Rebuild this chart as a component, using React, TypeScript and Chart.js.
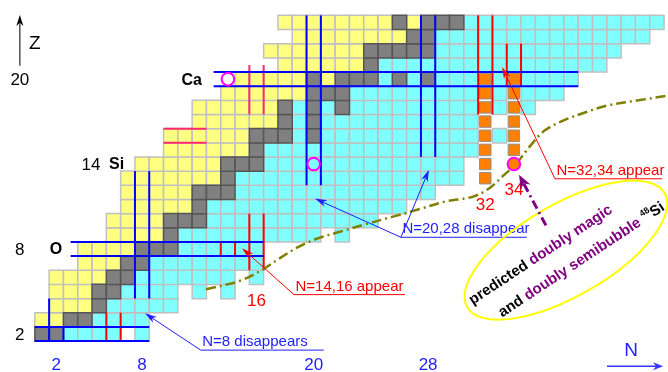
import { useEffect, useRef } from 'react';
import { Chart, registerables } from 'chart.js';

Chart.register(...registerables);

// Light-nuclei section of the chart of nuclides, Z = 2 .. 24.
// Each row is a run-length list starting at firstNeutron:
//   y = proton-rich, g = stable, c = neutron-rich, o = N=32/34 candidates, . = not bound / not seen
const protonNumbers = [2, 3, 4, 5, 6, 7, 8, 9, 10, 11, 12, 13, 14, 15, 16, 17, 18, 19, 20, 21, 22, 23, 24];
const firstNeutron = [1, 1, 2, 2, 2, 4, 4, 6, 6, 7, 7, 7, 8, 10, 10, 12, 12, 14, 15, 18, 17, 19, 18];
const rowRuns = [
  'g2 c4 . c', // He
  'y2 g2 c4', // Li
  'y3 g c5', // Be
  'y3 g2 c4 . c . c', // B
  'y4 g2 c7 . c', // C
  'y3 g2 c8', // N
  'y4 g3 c6', // O
  'y4 g c10 . c', // F
  'y4 g3 c12', // Ne
  'y5 g c14', // Na
  'y5 g3 c14', // Mg
  'y7 g c16 . o', // Al
  'y6 g3 c14 . o', // Si
  'y6 g c15 o . o', // P
  'y6 g3 c g c11 o c o', // S
  'y6 g c g c11 o . o', // Cl
  'y6 g c g c g c9 o c o c', // Ar
  'y6 g3 c9 o c o c3', // K
  'y5 g y g3 c g c g c3 o c o c4', // Ca
  'y6 g c16', // Sc
  'y7 g5 c13', // Ti
  'y8 g2 c15', // V
  'y8 g y g3 c14', // Cr
];

// Shell-closure frames along cell edges: [N from, Z from, N to, Z to]
const fadingMagicLines = [
  [1.5, 1.5, 1.5, 4.5], [2.5, 1.5, 2.5, 2.5],
  [0.5, 1.5, 8.5, 1.5], [0.5, 2.5, 8.5, 2.5],
  [7.5, 4.5, 7.5, 13.5], [8.5, 4.5, 8.5, 13.5],
  [3, 7.5, 16.5, 7.5], [3, 8.5, 16.5, 8.5],
  [19.5, 12.5, 19.5, 24.5], [20.5, 12.5, 20.5, 24.5],
  [27.5, 14.5, 27.5, 24.5], [28.5, 14.5, 28.5, 24.5],
  [13, 19.5, 38.5, 19.5], [13, 20.5, 38.5, 20.5],
];
const newMagicLines = [
  [5.5, 1.5, 5.5, 3.5], [6.5, 1.5, 6.5, 3.5],
  [13.5, 7.5, 13.5, 8.5], [14.5, 7.5, 14.5, 8.5],
  [15.5, 6.5, 15.5, 10.5], [16.5, 6.5, 16.5, 10.5],
  [31.5, 17.5, 31.5, 24.5], [32.5, 17.5, 32.5, 24.5],
  [33.5, 19.5, 33.5, 22.5], [34.5, 19.5, 34.5, 22.5],
];
const bubbleLines = [
  [9.5, 15.5, 12.5, 15.5], [9.5, 16.5, 12.5, 16.5],
  [15.5, 17.5, 15.5, 21], [16.5, 17.5, 16.5, 21],
];

// Predicted neutron drip line
const dripN = [12.47, 14.85, 16.38, 17.64, 18.9, 20.3, 21.84, 23.59, 25.48, 27.43, 29.18, 31.14, 32.33, 33.24, 34.15, 35.13, 36.17, 37.64, 38.97, 40.51, 42.82, 44.78];
const dripZ = [5.16, 5.76, 6.52, 7.36, 8.13, 8.76, 9.22, 9.74, 10.27, 10.83, 11.35, 11.7, 12.33, 13.17, 14.01, 15.27, 16.38, 17.15, 17.64, 18.13, 18.52, 18.83];

// Bubble nuclei 34Ca, 34Si and the predicted 48Si
const circledN = [14, 20];
const circledZ = [20, 14];
const predictedN = [34];
const predictedZ = [14];

// Axis numbers
const xTickValues = [2, 8, 20, 28];
const yTickValues = [2, 8, 14, 20];
const yTickAtN = [-0.55, -0.55, 4.43, -0.55];
const elementNames = ['O', 'Si', 'Ca'];
const elementZ = [8, 14, 20];
const elementAtN = [1.98, 6.22, 11.47];

// New magic numbers written below their columns
const newMagicValues = [16, 32, 34];
const newMagicLabelZ = [4.29, 11.12, 12.17];

const BLUE = '#1e1eff';
const RED = '#ff0000';
const PURPLE = '#800080';
const FONT = '"Liberation Sans", Arial, sans-serif';

const callouts = [
  { label: 'N=8 disappears', color: BLUE, fromN: 12.1, toN: 20.7, atZ: 0.86, tips: [[8.2, 3.46]] },
  { label: 'N=14,16 appear', color: RED, fromN: 18.62, toN: 26.38, atZ: 4.78, tips: [[14.99, 8.06]] },
  { label: 'N=20,28 disappear', color: BLUE, fromN: 26.1, toN: 34.9, atZ: 8.83, tips: [[20.09, 11.56], [28.06, 13.59]] },
  { label: 'N=32,34 appear', color: RED, fromN: 36.87, toN: 44.36, atZ: 12.96, tips: [[33.17, 20.86]] },
];

type Pt = { x: number; y: number };

function buildCells() {
  const groups: Record<string, Pt[]> = { y: [], g: [], c: [], o: [] };
  protonNumbers.forEach((z, i) => {
    let n = firstNeutron[i];
    for (const tok of rowRuns[i].split(' ')) {
      const code = tok[0];
      const count = tok.length > 1 ? parseInt(tok.slice(1), 10) : 1;
      for (let k = 0; k < count; k++, n++) {
        if (groups[code]) groups[code].push({ x: n, y: z });
      }
    }
  });
  return groups;
}

function arrow(ctx: CanvasRenderingContext2D, x0: number, y0: number, x1: number, y1: number,
  color: string, width: number, headLen: number, headHalf: number, dash: number[] = [], shaftColor?: string) {
  const a = Math.atan2(y1 - y0, x1 - x0);
  ctx.save();
  ctx.strokeStyle = shaftColor || color;
  ctx.lineWidth = width;
  ctx.setLineDash(dash);
  ctx.beginPath();
  ctx.moveTo(x0, y0);
  ctx.lineTo(x1 - Math.cos(a) * headLen * 0.7, y1 - Math.sin(a) * headLen * 0.7);
  ctx.stroke();
  ctx.setLineDash([]);
  ctx.translate(x1, y1);
  ctx.rotate(a);
  ctx.beginPath();
  ctx.moveTo(0, 0);
  ctx.lineTo(-headLen, -headHalf);
  ctx.lineTo(-headLen * 0.7, 0);
  ctx.lineTo(-headLen, headHalf);
  ctx.closePath();
  ctx.fillStyle = color;
  ctx.fill();
  ctx.restore();
}

type Part = { t: string; color: string; font: string; dy?: number };

function richLine(ctx: CanvasRenderingContext2D, parts: Part[], cx: number, cy: number) {
  const widths = parts.map((p) => { ctx.font = p.font; return ctx.measureText(p.t).width; });
  const total = widths.reduce((s, w) => s + w, 0);
  let x = cx - total / 2;
  ctx.textAlign = 'left';
  ctx.textBaseline = 'middle';
  parts.forEach((p, i) => {
    ctx.font = p.font;
    ctx.fillStyle = p.color;
    ctx.fillText(p.t, x, cy + (p.dy || 0));
    x += widths[i];
  });
}

const overlay = {
  id: 'overlay',
  afterDatasetsDraw(chart: any) {
    const { ctx, scales } = chart;
    const P = (n: number, z: number) => [scales.x.getPixelForValue(n), scales.y.getPixelForValue(z)];
    const label = (s: string, n: number, z: number, font: string, color: string, dy = 0) => {
      const [px, py] = P(n, z);
      ctx.font = font;
      ctx.fillStyle = color;
      ctx.textAlign = 'center';
      ctx.textBaseline = 'middle';
      ctx.fillText(s, px, py + dy);
    };
    ctx.save();

    // axis numbers and element symbols
    yTickValues.forEach((v, i) => label(String(v), yTickAtN[i], v, `17px ${FONT}`, '#000', 1));
    xTickValues.forEach((v) => label(String(v), v, -0.24, `17px ${FONT}`, BLUE));
    elementNames.forEach((s, i) => label(s, elementAtN[i], elementZ[i], `bold 16px ${FONT}`, '#000', 1));
    newMagicValues.forEach((v, i) => label(String(v), v, newMagicLabelZ[i], `17px ${FONT}`, RED));

    // Z and N axis arrows
    {
      const [x0, y0] = P(-0.55, 20.95);
      const [x1, y1] = P(-0.55, 24.52);
      arrow(ctx, x0, y0, x1, y1, '#000', 1.5, 11, 3.5, [], '#505050');
      label('Z', 0.49, 22.5, `19px ${FONT}`, '#000');
      const [a0, b0] = P(40.51, -0.28);
      const [a1, b1] = P(44.43, -0.28);
      arrow(ctx, a0, b0, a1, b1, '#3535ff', 1.5, 10, 4);
      label('N', 42.19, 0.83, `19px ${FONT}`, BLUE);
    }

    // callouts with underlined captions
    callouts.forEach((c) => {
      const [ux0, uy] = P(c.fromN, c.atZ);
      const [ux1] = P(c.toN, c.atZ);
      ctx.strokeStyle = c.color;
      ctx.lineWidth = 1;
      ctx.beginPath();
      ctx.moveTo(ux0, uy);
      ctx.lineTo(ux1, uy);
      ctx.stroke();
      ctx.font = `15px ${FONT}`;
      ctx.fillStyle = c.color;
      ctx.textAlign = 'left';
      ctx.textBaseline = 'alphabetic';
      ctx.fillText(c.label, ux0 + 1.5, uy - 4);
      c.tips.forEach(([tn, tz]) => {
        const [tx, ty] = P(tn, tz);
        arrow(ctx, ux0, uy, tx, ty, c.color, 1, 12, 3.5);
      });
    });

    // predicted doubly magic 48Si
    {
      const [cx, cy] = P(37.64, 7.92);
      ctx.strokeStyle = '#ffff00';
      ctx.lineWidth = 2;
      ctx.beginPath();
      ctx.ellipse(cx, cy, 114, 46, (-30 * Math.PI) / 180, 0, Math.PI * 2);
      ctx.stroke();

      const [s0x, s0y] = P(36.24, 9.67);
      const [s1x, s1y] = P(34.36, 13.24);
      arrow(ctx, s0x, s0y, s1x, s1y, PURPLE, 3, 14, 5.5, [9, 4, 2, 4]);

      ctx.save();
      ctx.translate(cx, cy);
      ctx.rotate((-33.5 * Math.PI) / 180);
      const bold = `bold 15px ${FONT}`;
      richLine(ctx, [
        { t: 'predicted ', color: '#000', font: bold },
        { t: 'doubly magic', color: PURPLE, font: bold },
      ], -23.7, -9.9);
      richLine(ctx, [
        { t: 'and ', color: '#000', font: bold },
        { t: 'doubly semibubble', color: PURPLE, font: bold },
        { t: ' ', color: '#000', font: bold },
        { t: '48', color: '#000', font: `bold 9px ${FONT}`, dy: -5 },
        { t: 'Si', color: '#000', font: bold },
      ], 7.7, 16.8);
      ctx.restore();
    }

    ctx.restore();
  },
};

function cellSide(c: any) {
  const s = c.chart.scales.x;
  return Math.abs(s.getPixelForValue(1) - s.getPixelForValue(0));
}

function segmentDatasets(segs: number[][], color: string, order: number) {
  return segs.map(([n0, z0, n1, z1]) => ({
    type: 'scatter' as const,
    data: [{ x: n0, y: z0 }, { x: n1, y: z1 }],
    showLine: true,
    borderColor: color,
    borderWidth: 2,
    pointRadius: 0,
    clip: false as const,
    order,
  }));
}

export default function App() {
  const ref = useRef<HTMLCanvasElement | null>(null);

  useEffect(() => {
    if (!ref.current) return;
    const cells = buildCells();
    const cellStyle = (fill: string, edge: string, order: number, data: Pt[], scale = 1, edgeWidth = 1.5) => ({
      type: 'scatter' as const,
      data,
      pointStyle: 'rect' as const,
      pointRadius: (c: any) => (cellSide(c) * scale) / Math.SQRT2,
      backgroundColor: fill,
      borderColor: edge,
      borderWidth: edgeWidth,
      clip: false as const,
      order,
    });

    const datasets: any[] = [
      cellStyle('#ffff80', '#c0c0c0', 50, cells.y),
      cellStyle('#80ffff', '#c0c0c0', 50, cells.c),
      cellStyle('#808080', '#555555', 40, cells.g),
      cellStyle('#ff8000', '#8f8f8f', 35, cells.o, 0.8, 1),
      ...segmentDatasets(fadingMagicLines, '#0000ff', 20),
      ...segmentDatasets(newMagicLines, '#ff0000', 20),
      ...segmentDatasets(bubbleLines, '#ff2a6e', 20),
      {
        type: 'scatter',
        data: dripN.map((n, i) => ({ x: n, y: dripZ[i] })),
        showLine: true,
        borderColor: '#808000',
        borderWidth: 2.5,
        borderDash: [10, 4, 2, 4],
        tension: 0.35,
        pointRadius: 0,
        clip: false,
        order: 10,
      },
      {
        type: 'scatter',
        data: circledN.map((n, i) => ({ x: n, y: circledZ[i] })),
        pointStyle: 'circle',
        pointRadius: 6.3,
        backgroundColor: 'rgba(0,0,0,0)',
        borderColor: '#ff00ff',
        borderWidth: 2,
        clip: false,
        order: 1,
      },
      {
        type: 'scatter',
        data: predictedN.map((n, i) => ({ x: n, y: predictedZ[i] })),
        pointStyle: 'circle',
        pointRadius: 6.3,
        backgroundColor: '#ff8000',
        borderColor: '#ff00ff',
        borderWidth: 2,
        clip: false,
        order: 0,
      },
    ];

    const chart = new Chart(ref.current, {
      type: 'scatter',
      data: { datasets },
      options: {
        animation: false,
        responsive: false,
        devicePixelRatio: 1,
        events: [],
        layout: { padding: { left: 27.7, right: 11.1, top: 4.8, bottom: 9.7 } },
        scales: {
          x: { type: 'linear', min: 0, max: 44, display: false },
          y: { type: 'linear', min: 0, max: 25, display: false },
        },
        plugins: { legend: { display: false }, tooltip: { enabled: false } },
      },
      plugins: [overlay],
    });
    return () => chart.destroy();
  }, []);

  return (
    <div style={{ position: 'absolute', left: 0, top: 0, width: 668, height: 372, background: '#fff' }}>
      <canvas ref={ref} width={668} height={372} style={{ display: 'block' }} />
    </div>
  );
}
